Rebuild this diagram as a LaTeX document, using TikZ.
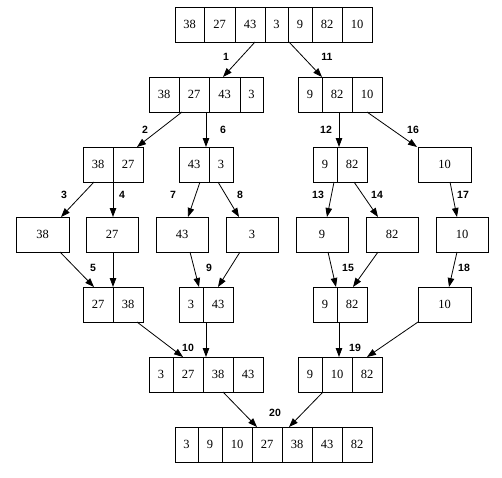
\documentclass[tikz,border=0pt]{standalone}
\usepackage{fontspec}
\setmainfont{Liberation Serif}
\newfontfamily\labelfont{Liberation Sans}
\usetikzlibrary{arrows.meta}
% one field of a record, placed by its north west corner
\newcommand{\cell}[5]{\node[cellbox, minimum width=#4] (#1) at (#2,#3) {#5};}
\tikzset{
    cellbox/.style={draw, line width=0.8pt, anchor=north west, minimum height=35,
        inner sep=0pt, outer sep=0pt, font=\fontsize{12.5}{14}\selectfont},
    steplabel/.style={font=\labelfont\bfseries\fontsize{10.5}{12}\selectfont, inner sep=0pt},
    edge/.style={->, line width=0.8pt}
}
\begin{document}
\begin{tikzpicture}[x=1pt, y=-1pt, >={Triangle[length=9pt,width=6.5pt]}]
    \useasboundingbox (0,0) rectangle (502,477);
    % top
    \cell{t1}{175}{7}{29}{38} \cell{t2}{204}{7}{31}{27} \cell{t3}{235}{7}{30}{43}
    \cell{t4}{265}{7}{23}{3} \cell{t5}{288}{7}{24}{9} \cell{t6}{312}{7}{30}{82}
    \cell{t7}{342}{7}{30}{10}
    % split 1
    \cell{a1}{149}{77}{30}{38} \cell{a2}{179}{77}{30}{27} \cell{a3}{209}{77}{31}{43}
    \cell{a4}{240}{77}{23}{3}
    \cell{b1}{298}{77}{24}{9} \cell{b2}{322}{77}{30}{82} \cell{b3}{352}{77}{30}{10}
    % split 2
    \cell{c1}{83}{147}{30}{38} \cell{c2}{113}{147}{30}{27}
    \cell{d1}{179}{147}{30}{43} \cell{d2}{209}{147}{24}{3}
    \cell{e1}{313}{147}{24}{9} \cell{e2}{337}{147}{30}{82}
    \cell{f}{418}{147}{53}{10}
    % single elements
    \cell{g}{16}{217}{53}{38} \cell{h}{86}{217}{52}{27} \cell{i}{156}{217}{52}{43}
    \cell{j}{226}{217}{52}{3} \cell{k}{296}{217}{52}{9} \cell{l}{366}{217}{52}{82}
    \cell{m}{436}{217}{52}{10}
    % merge 1
    \cell{n1}{83}{287}{30}{27} \cell{n2}{113}{287}{30}{38}
    \cell{o1}{179}{287}{24}{3} \cell{o2}{203}{287}{30}{43}
    \cell{p1}{313}{287}{24}{9} \cell{p2}{337}{287}{30}{82}
    \cell{q}{418}{287}{53}{10}
    % merge 2
    \cell{r1}{149}{357}{24}{3} \cell{r2}{173}{357}{30}{27} \cell{r3}{203}{357}{30}{38}
    \cell{r4}{233}{357}{30}{43}
    \cell{s1}{298}{357}{24}{9} \cell{s2}{322}{357}{30}{10} \cell{s3}{352}{357}{30}{82}
    % result
    \cell{u1}{175}{427}{23}{3} \cell{u2}{198}{427}{24}{9} \cell{u3}{222}{427}{30}{10}
    \cell{u4}{252}{427}{30}{27} \cell{u5}{282}{427}{30}{38} \cell{u6}{312}{427}{30}{43}
    \cell{u7}{342}{427}{30}{82}

    % edges
    \draw[edge] ([xshift=5]t3.south) -- ([xshift=-1.5]a3.north);
    \draw[edge] ([xshift=-11]t5.south) -- ([xshift=-15]b2.north);
    \draw[edge] ([xshift=-12]a2.south) -- ([xshift=9]c2.north);
    \draw[edge] ([xshift=12]a2.south) -- ([xshift=12]d1.north);
    \draw[edge] ([xshift=2]b2.south) -- ([xshift=-13]e2.north);
    \draw[edge] (b3.south) -- ([xshift=-27.5]f.north);
    \draw[edge] ([xshift=-4]c1.south) -- ([xshift=18.5]g.north);
    \draw[edge] ([xshift=-15]c2.south) -- ([xshift=1]h.north);
    \draw[edge] ([xshift=6]d1.south) -- ([xshift=6]i.north);
    \draw[edge] ([xshift=-3]d2.south) -- ([xshift=-13]j.north);
    \draw[edge] ([xshift=9]e1.south) -- ([xshift=5]k.north);
    \draw[edge] ([xshift=2]e2.south) -- ([xshift=-14]l.north);
    \draw[edge] ([xshift=5.5]f.south) -- ([xshift=-5]m.north);
    \draw[edge] ([xshift=17.5]g.south) -- ([xshift=-4]n1.north);
    \draw[edge] ([xshift=1]h.south) -- ([xshift=-15]n2.north);
    \draw[edge] ([xshift=8]i.south) -- ([xshift=8]o1.north);
    \draw[edge] ([xshift=-12]j.south) -- (o2.north);
    \draw[edge] ([xshift=6]k.south) -- ([xshift=11]p1.north);
    \draw[edge] ([xshift=-14]l.south) -- ([xshift=1]p2.north);
    \draw[edge] ([xshift=-5]m.south) -- ([xshift=4.5]q.north);
    \draw[edge] ([xshift=9]n2.south) -- ([xshift=-5]r2.north);
    \draw[edge] ([xshift=-12]o2.south) -- ([xshift=-12]r3.north);
    \draw[edge] ([xshift=-13]p2.south) -- ([xshift=2]s2.north);
    \draw[edge] ([xshift=-26.5]q.south) -- (s3.north);
    \draw[edge] ([xshift=5]r3.south) -- ([xshift=-10]u4.north);
    \draw[edge] ([xshift=-14]s2.south) -- ([xshift=-8]u5.north);

    % step numbers
    \node[steplabel] (l1) at (226,57) {1};
    \node[steplabel] (l11) at (327,57) {11};
    \node[steplabel] (l2) at (145,130) {2};
    \node[steplabel] (l6) at (223,130) {6};
    \node[steplabel] (l12) at (326,130) {12};
    \node[steplabel] (l16) at (413,130) {16};
    \node[steplabel] (l3) at (64,195) {3};
    \node[steplabel] (l4) at (122,195) {4};
    \node[steplabel] (l7) at (173,195) {7};
    \node[steplabel] (l8) at (240,195) {8};
    \node[steplabel] (l13) at (318,195) {13};
    \node[steplabel] (l14) at (377,195) {14};
    \node[steplabel] (l17) at (463,195) {17};
    \node[steplabel] (l5) at (93,268) {5};
    \node[steplabel] (l9) at (209,268) {9};
    \node[steplabel] (l15) at (348,268) {15};
    \node[steplabel] (l18) at (464,268) {18};
    \node[steplabel] (l10) at (188,348) {10};
    \node[steplabel] (l19) at (355,348) {19};
    \node[steplabel] (l20) at (275,413) {20};
\end{tikzpicture}
\end{document}
